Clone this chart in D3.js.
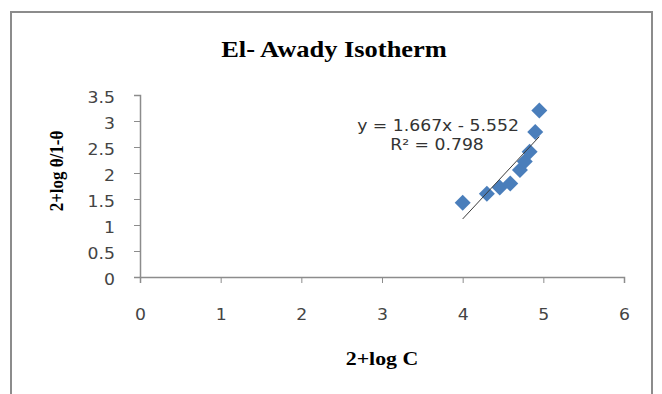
<!DOCTYPE html>
<html>
<head>
<meta charset="utf-8">
<script src="https://cdn.jsdelivr.net/npm/d3@7"></script>
<style>
  body { margin: 0; background: #fff; }
</style>
</head>
<body>
<div id="chart"></div>
<script>
// data
const xValues = [4.0, 4.3, 4.46, 4.59, 4.71, 4.77, 4.83, 4.9, 4.95];
const yValues = [1.43, 1.6, 1.72, 1.8, 2.06, 2.22, 2.41, 2.79, 3.2];
const xTicks = [0, 1, 2, 3, 4, 5, 6];
const yTicks = [0, 0.5, 1, 1.5, 2, 2.5, 3, 3.5];
const slope = 1.667;
const intercept = -5.552;
const rSquared = 0.798;

const width = 662, height = 394;
const SX = 1.15; // the source picture is a bit stretched sideways

const svg = d3.select('#chart').append('svg').attr('width', width).attr('height', height);

// outer frame
svg.append('rect')
  .attr('x', 11).attr('y', 12).attr('width', 641).attr('height', 400)
  .style('fill', 'white').style('stroke', '#8c8c8c').style('stroke-width', 2);

const x = d3.scaleLinear().domain([0, 6]).range([140, 624]);
const y = d3.scaleLinear().domain([0, 3.5]).range([277, 95]);

function stretched(g, tx, ty, txt, opts) {
  return g.append('text')
    .attr('transform', `translate(${tx},${ty}) scale(${SX},1)` + (opts.rotate ? ` rotate(${opts.rotate})` : ''))
    .attr('text-anchor', opts.anchor || 'middle')
    .style('font-family', opts.family)
    .style('font-size', opts.size + 'px')
    .style('font-weight', opts.weight || 'normal')
    .style('fill', opts.fill || '#000')
    .text(txt);
}

// axes
const yAxis = svg.append('g').attr('transform', 'translate(140,0)')
  .call(d3.axisLeft(y).tickValues(yTicks).tickSize(6).tickPadding(0).tickFormat(d3.format('')));
const xAxis = svg.append('g').attr('transform', 'translate(0,277)')
  .call(d3.axisBottom(x).tickValues(xTicks).tickSize(6).tickPadding(0).tickFormat(d3.format('')));

[xAxis, yAxis].forEach(a => {
  a.select('.domain').style('stroke', '#8c8c8c').style('stroke-width', 1.5);
  a.selectAll('.tick line').style('stroke', '#8c8c8c');
  a.selectAll('.tick text')
    .style('font-family', '"DejaVu Sans", Verdana, sans-serif')
    .style('font-size', '15px')
    .style('fill', '#444');
});
yAxis.selectAll('.tick text').attr('x', 0).attr('dy', '0.38em')
  .attr('transform', `translate(-25,2) scale(${SX},1)`);
xAxis.selectAll('.tick text').attr('y', 0).attr('dy', 0)
  .attr('transform', `translate(0,43) scale(${SX},1)`);

// trendline over the data range
const xMin = d3.min(xValues), xMax = d3.max(xValues);

// markers
const points = xValues.map((v, i) => ({ x: v, y: yValues[i] }));
svg.append('g').selectAll('path')
  .data(points)
  .enter()
  .append('path')
  .attr('d', d3.symbol(d3.symbolSquare, 128))
  .attr('transform', d => `translate(${x(d.x)},${y(d.y)}) rotate(45)`)
  .style('fill', '#4a7ebb');

svg.append('line')
  .attr('x1', x(xMin)).attr('y1', y(slope * xMin + intercept))
  .attr('x2', x(xMax)).attr('y2', y(slope * xMax + intercept))
  .style('stroke', '#3a3a3a').style('stroke-width', 1);

// equation
const eqFont = '"DejaVu Sans", Verdana, sans-serif';
stretched(svg, 438, 131, `y = ${slope}x - ${Math.abs(intercept)}`, { family: eqFont, size: 15, fill: '#333' });
stretched(svg, 437, 150, `R² = ${rSquared}`, { family: eqFont, size: 15, fill: '#333' });

// titles
const serif = '"Liberation Serif", "Times New Roman", serif';
stretched(svg, 334, 57, 'El- Awady Isotherm', { family: serif, size: 23, weight: 'bold' });
stretched(svg, 382, 365, '2+log C', { family: serif, size: 19, weight: 'bold' });
stretched(svg, 63, 171, '2+log θ/1-θ', { family: serif, size: 17, weight: 'bold', rotate: -90 });
</script>
</body>
</html>
